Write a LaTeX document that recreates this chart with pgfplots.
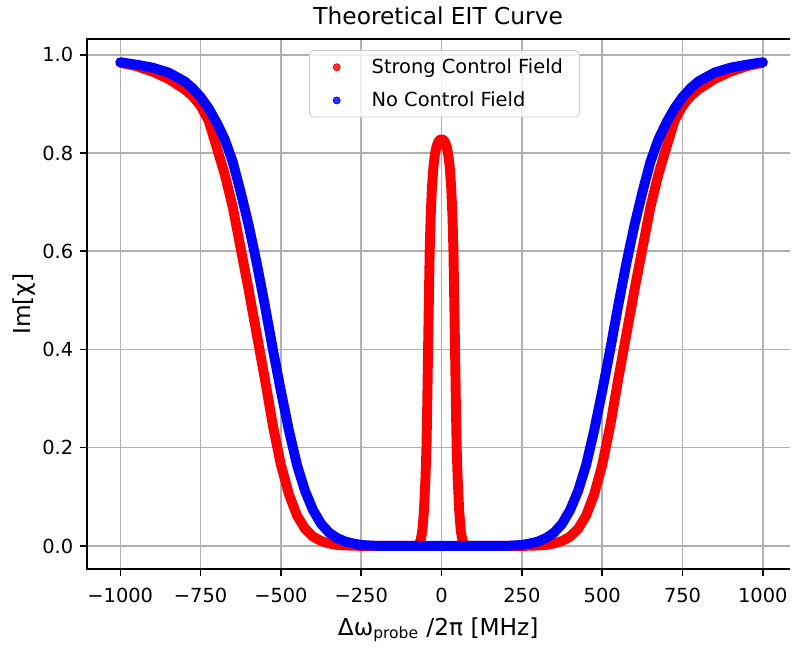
\documentclass[border=0pt]{standalone}
\usepackage{fontspec}
\setmainfont{DejaVu Sans}
\usepackage{pgfplots}
\pgfplotsset{compat=1.18}

% Im[chi], strong control field
\pgfplotstableread{
x y
-1000 0.984
-950 0.977
-900 0.966
-850 0.951
-800 0.930
-775 0.916
-750 0.896
-725 0.866
-700 0.812
-675 0.757
-650 0.690
-625 0.605
-600 0.520
-575 0.430
-550 0.340
-525 0.245
-500 0.165
-475 0.105
-450 0.062
-425 0.035
-400 0.019
-375 0.010
-350 0.005
-325 0.002
-300 0.001
-250 0.000
-150 0.000
-80 0.000
-75 0.001
-70 0.004
-65 0.012
-60 0.030
-55 0.070
-50 0.140
-47 0.200
-45 0.270
-42 0.400
-40 0.480
-37 0.600
-34 0.670
-30 0.730
-25 0.775
-20 0.800
-15 0.815
-10 0.823
-5 0.827
0 0.828
5 0.827
10 0.823
15 0.815
20 0.800
25 0.775
30 0.730
34 0.670
37 0.600
40 0.480
42 0.400
45 0.270
47 0.200
50 0.140
55 0.070
60 0.030
65 0.012
70 0.004
75 0.001
80 0.000
150 0.000
250 0.000
300 0.001
325 0.002
350 0.005
375 0.010
400 0.019
425 0.035
450 0.062
475 0.105
500 0.165
525 0.245
550 0.340
575 0.430
600 0.520
625 0.605
650 0.690
675 0.757
700 0.812
725 0.866
750 0.896
775 0.916
800 0.930
850 0.951
900 0.966
950 0.977
1000 0.984
}\strongfield

% no control field
\pgfplotstableread{
x y
-1000 0.985
-950 0.980
-900 0.974
-850 0.964
-800 0.946
-775 0.932
-750 0.914
-725 0.891
-700 0.862
-675 0.828
-650 0.782
-625 0.720
-600 0.652
-575 0.575
-550 0.490
-525 0.400
-500 0.315
-475 0.235
-450 0.165
-425 0.112
-400 0.073
-375 0.045
-350 0.027
-325 0.016
-300 0.009
-275 0.005
-250 0.002
-225 0.001
-200 0.000
0 0.000
200 0.000
225 0.001
250 0.002
275 0.005
300 0.009
325 0.016
350 0.027
375 0.045
400 0.073
425 0.112
450 0.165
475 0.235
500 0.315
525 0.400
550 0.490
575 0.575
600 0.652
625 0.720
650 0.782
675 0.828
700 0.862
725 0.891
750 0.914
775 0.932
800 0.946
850 0.964
900 0.974
950 0.980
1000 0.985
}\nofield

\begin{document}
\begin{tikzpicture}
\begin{axis}[
  scale only axis, width=362pt, height=273pt,
  xmin=-1104, xmax=1083, ymin=-0.047, ymax=1.032,
  axis line style={draw=none},
  xtick pos=bottom, ytick pos=left,
  tick align=outside, major tick length=3.5pt,
  every tick/.style={black, line width=0.8pt},
  xtick={-1000,-750,-500,-250,0,250,500,750,1000},
  xticklabels={−1000,−750,−500,−250,0,250,500,750,1000},
  ytick={0,0.2,0.4,0.6,0.8,1.0},
  yticklabels={0.0,0.2,0.4,0.6,0.8,1.0},
  ticklabel style={font=\fontsize{10}{12}\selectfont},
  xticklabel style={yshift=-3pt},
  grid=major, major grid style={color=black!31, line width=0.8pt},
  title={Theoretical EIT Curve},
  title style={font=\fontsize{12}{14}\selectfont, yshift=-2pt},
  xlabel={Δω\textsubscript{probe} /2π [MHz]},
  ylabel={Im[χ]},
  xlabel shift=0.5pt, ylabel shift=-3.5pt,
  label style={font=\fontsize{12}{14}\selectfont},
  legend style={at={(0.509,0.979)}, anchor=north, draw=black!20, fill=white,
    fill opacity=0.8, text opacity=1, rounded corners=2pt,
    font=\fontsize{10}{12}\selectfont, inner xsep=6.5pt, inner ysep=2pt, row sep=4pt},
  legend cell align=left,
  legend image code/.code={\path[draw=none] (0pt,0pt) -- (23.5pt,0pt); \fill (7.5pt,0pt) circle (1.8pt);},
]
\addlegendimage{red}
\addlegendentry{Strong Control Field}
\addlegendimage{blue}
\addlegendentry{No Control Field}
\addplot[forget plot, red, line width=5.1pt, line join=round, line cap=round] table {\strongfield};
\addplot[forget plot, blue, line width=5.1pt, line join=round, line cap=round] table {\nofield};
\end{axis}
\draw[line width=0.8pt, black] (current axis.south east) -- (current axis.south west)
  -- (current axis.north west) -- (current axis.north east);
\path ([xshift=-3.5pt]current axis.outer west);
\end{tikzpicture}
\end{document}
